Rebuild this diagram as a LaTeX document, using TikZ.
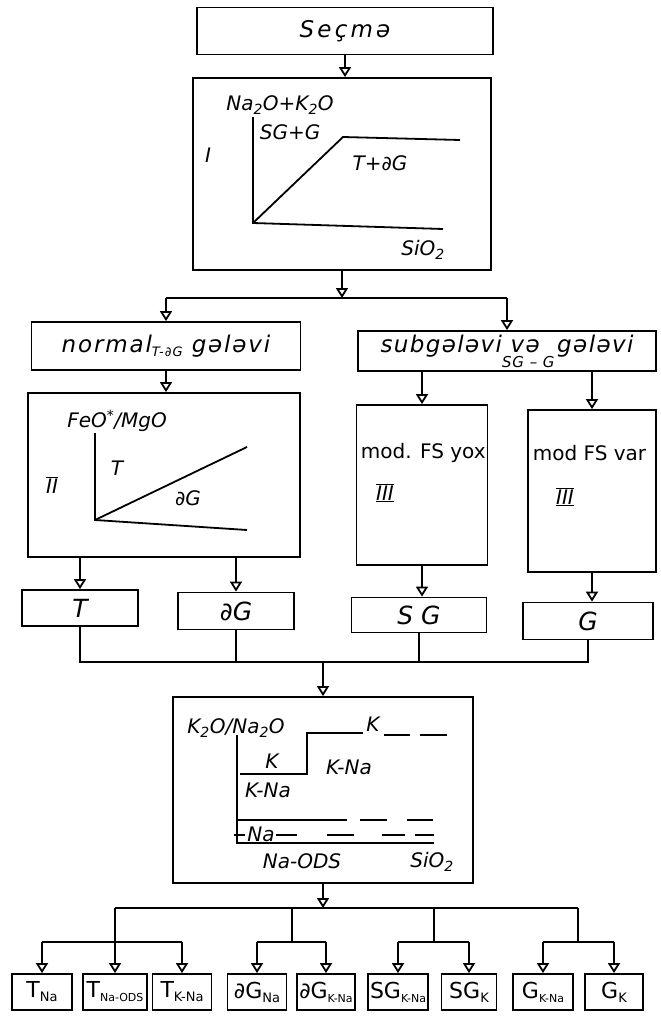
\documentclass[tikz,border=0pt]{standalone}
\usepackage{fontspec}
\setmainfont{DejaVu Sans}
\usetikzlibrary{arrows.meta}
\newcommand{\subtxt}[1]{\raisebox{-4pt}{\fontsize{13}{13}\selectfont #1}}
\newcommand{\subsm}[1]{\raisebox{-4pt}{\fontsize{11}{11}\selectfont #1}}
\newcommand{\subdeep}[1]{\raisebox{-15pt}{\fontsize{15}{15}\selectfont #1}}
\tikzset{
  every picture/.style={line width=1.8pt},
  box/.style={draw, inner sep=2pt, font=\fontsize{23}{25}\selectfont\itshape},
  wide/.style={font=\fontsize{23}{25}\selectfont\itshape\addfontfeature{LetterSpace=#1}},
  leaf/.style={draw, inner sep=1pt, minimum height=36pt, font=\fontsize{22}{24}\selectfont},
  arrow/.style={-{Triangle[open, length=10pt, width=12pt]}},
  lbl/.style={inner sep=1pt, font=\fontsize{20}{22}\selectfont\itshape},
  modlbl/.style={inner sep=1pt, anchor=west, font=\fontsize{20}{22}\selectfont},
}

\begin{document}
\begin{tikzpicture}[x=1pt, y=-1pt]
  \useasboundingbox (0,0) rectangle (661,1025);

  % selection and diagram I
  \node[box, wide=14, minimum width=296pt, minimum height=47pt] (secma) at (345,31) {Seçmə};
  \node[box, minimum width=298pt, minimum height=192pt] (boxI) at (342,174) {};
  \draw[arrow] (secma.south) -- (secma.south |- boxI.north);
  \node[lbl] (romI) at (208,155) {I};
  \node[lbl] (naK) at (280,105) {Na\textsubscript{2}O+K\textsubscript{2}O};
  \node[lbl, anchor=west] (sgg) at (258,132) {SG+G};
  \node[lbl] (tdg) at (380,163) {T+∂G};
  \node[lbl] (sioI) at (423,250) {SiO\textsubscript{2}};
  \draw (253,117) -- (253,223) -- (443,229);
  \draw (253,223) -- (343,137) -- (460,140);

  % first split
  \node[box, wide=8, minimum width=269pt, minimum height=48pt] (normal) at (166,346) {normal\subtxt{T-∂G} gələvi};
  \node[box, wide=6, minimum width=298pt, minimum height=40pt] (subg) at (507,351) {subgələvi\rlap{\subdeep{SG – G}}\ və\ \ gələvi};
  \coordinate (j1) at (342,298);
  \draw[arrow] (boxI.south) -- (j1);
  \draw (normal.north |- j1) -- (subg.north |- j1);
  \draw[arrow] (normal.north |- j1) -- (normal.north);
  \draw[arrow] (subg.north |- j1) -- (subg.north);

  % diagram II
  \node[box, minimum width=272pt, minimum height=164pt] (boxII) at (164,475) {};
  \draw[arrow] (normal.south) -- (normal.south |- boxII.north);
  \node[lbl] (romII) at (52,485) {$\overline{\mbox{\itshape II}}$};
  \node[lbl] (feo) at (117,421) {FeO\textsuperscript{*}/MgO};
  \node[lbl] (tII) at (117,468) {T};
  \node[lbl] (dgII) at (188,498) {∂G};
  \draw (95,433) -- (95,520) -- (247,530);
  \draw (95,520) -- (247,447);

  % diagrams III
  \node[box, minimum width=131pt, minimum height=160pt] (yox) at (422,485) {};
  \node[box, minimum width=128pt, minimum height=162pt] (var) at (592,491) {};
  \draw[arrow] (subg.south -| yox.north) -- (yox.north);
  \draw[arrow] (subg.south -| var.north) -- (var.north);
  \node[modlbl] (yoxt) at (359,453) {mod. FS yox};
  \node[modlbl] (vart) at (531,453) {mod FS var};
  \node[lbl] (yoxn) at (385,493) {$\overline{\underline{\mbox{\itshape III}}}$};
  \node[lbl] (varn) at (565,497) {$\overline{\underline{\mbox{\itshape III}}}$};

  % series boxes
  \node[box, font=\fontsize{25}{27}\selectfont\itshape, minimum width=116pt, minimum height=36pt] (tb) at (80,608) {T};
  \node[box, font=\fontsize{25}{27}\selectfont\itshape, minimum width=116pt, minimum height=37pt] (dgb) at (236,611) {∂G};
  \node[box, font=\fontsize{25}{27}\selectfont\itshape, minimum width=135pt, minimum height=35pt] (sgb) at (419,615) {S G};
  \node[box, font=\fontsize{25}{27}\selectfont\itshape, minimum width=130pt, minimum height=37pt] (gb) at (588,621) {G};
  \draw[arrow] (boxII.south -| tb.north) -- (tb.north);
  \draw[arrow] (boxII.south -| dgb.north) -- (dgb.north);
  \draw[arrow] (yox.south) -- (yox.south |- sgb.north);
  \draw[arrow] (var.south) -- (var.south |- gb.north);

  % merge into diagram K2O/Na2O
  \node[box, minimum width=300pt, minimum height=186pt] (lower) at (323,790) {};
  \coordinate (m) at (323,662);
  \draw (tb.south) -- (tb.south |- m) -- (gb.south |- m) -- (gb.south);
  \draw (dgb.south) -- (dgb.south |- m);
  \draw (sgb.south) -- (sgb.south |- m);
  \draw[arrow] (m) -- (lower.north);
  \node[lbl] (kna) at (236,728) {K\textsubscript{2}O/Na\textsubscript{2}O};
  \draw (237,735) -- (237,843) -- (434,843);
  \draw (240,774) -- (307,774) -- (307,733) -- (363,733);
  \draw (384,735) -- (410,735) (420,735) -- (447,735);
  \node[lbl] (kTop) at (373,724) {K};
  \node[lbl] (kLow) at (272,761) {K};
  \node[lbl] (knaR) at (349,767) {K-Na};
  \node[lbl] (knaL) at (268,790) {K-Na};
  \draw (237,820) -- (347,820) (360,820) -- (387,820) (407,820) -- (433,820);
  \draw (234,835) -- (245,835) (276,835) -- (297,835) (327,835) -- (354,835)
        (382,835) -- (405,835) (415,835) -- (434,835);
  \node[lbl] (naD) at (261,834) {Na};
  \node[lbl] (naods) at (302,861) {Na-ODS};
  \node[lbl] (sioL) at (432,862) {SiO\textsubscript{2}};

  % final classes
  \node[leaf, minimum width=60pt] (tna) at (42,992) {T\subtxt{Na}};
  \node[leaf, minimum width=64pt] (tnaods) at (115,992) {T\subsm{Na-ODS}};
  \node[leaf, minimum width=59pt] (tkna) at (182,992) {T\subtxt{K-Na}};
  \node[leaf, minimum width=59pt] (dgna) at (257,992) {∂G\subtxt{Na}};
  \node[leaf, minimum width=58pt] (dgkna) at (326,992) {∂G\subsm{K-Na}};
  \node[leaf, minimum width=60pt] (sgkna) at (398,992) {SG\subsm{K-Na}};
  \node[leaf, minimum width=55pt] (sgk) at (469,992) {SG\subtxt{K}};
  \node[leaf, minimum width=60pt] (gkna) at (543,992) {G\subsm{K-Na}};
  \node[leaf, minimum width=58pt] (gk) at (614,992) {G\subtxt{K}};
  \coordinate (b0) at (323,908);
  \coordinate (bD) at (292,942);
  \coordinate (bS) at (434,942);
  \coordinate (bG) at (578,942);
  \draw[arrow] (lower.south) -- (b0);
  \draw (tnaods.north |- b0) -- (bG |- b0);
  \draw (bD |- b0) -- (bD);
  \draw (bS |- b0) -- (bS);
  \draw (bG |- b0) -- (bG);
  \draw[arrow] (tnaods.north |- b0) -- (tnaods.north);
  \draw (tna.north |- bD) -- (tkna.north |- bD);
  \draw[arrow] (tna.north |- bD) -- (tna.north);
  \draw[arrow] (tkna.north |- bD) -- (tkna.north);
  \draw (dgna.north |- bD) -- (dgkna.north |- bD);
  \draw[arrow] (dgna.north |- bD) -- (dgna.north);
  \draw[arrow] (dgkna.north |- bD) -- (dgkna.north);
  \draw (sgkna.north |- bS) -- (sgk.north |- bS);
  \draw[arrow] (sgkna.north |- bS) -- (sgkna.north);
  \draw[arrow] (sgk.north |- bS) -- (sgk.north);
  \draw (gkna.north |- bG) -- (gk.north |- bG);
  \draw[arrow] (gkna.north |- bG) -- (gkna.north);
  \draw[arrow] (gk.north |- bG) -- (gk.north);
\end{tikzpicture}
\end{document}
